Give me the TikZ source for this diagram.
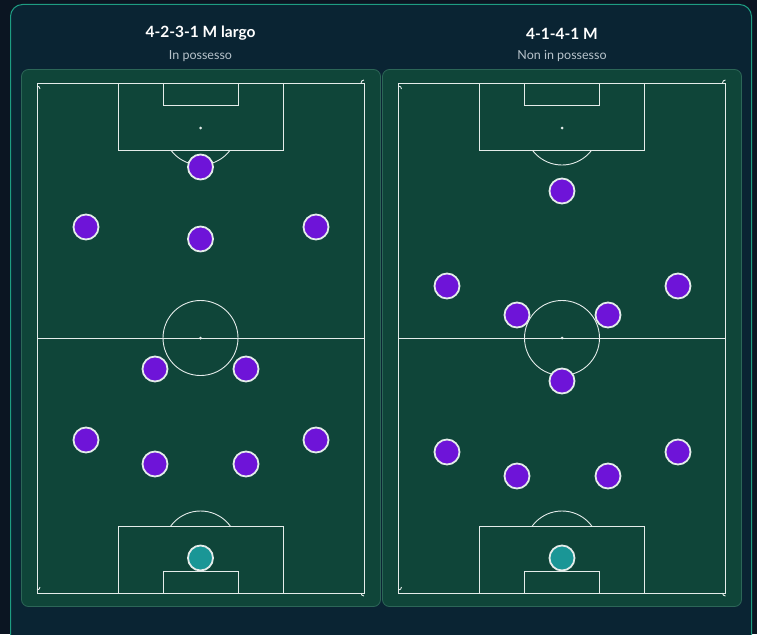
\documentclass[tikz,border=0pt]{standalone}
\usepackage{fontspec}
\setmainfont{Lato}
\definecolor{bgout}{HTML}{0B1522}
\definecolor{card}{HTML}{0A2433}
\definecolor{cardline}{HTML}{1E9C82}
\definecolor{panel}{HTML}{0F4539}
\definecolor{panelline}{HTML}{2C6657}
\definecolor{pline}{HTML}{E4ECEA}
\definecolor{purp}{HTML}{6E14D8}
\definecolor{gk}{HTML}{1A9696}
\definecolor{subt}{HTML}{B8C4CC}
\tikzset{
  pl/.style={circle,draw=pline,line width=1.8pt,fill=purp,minimum size=25pt,inner sep=0pt},
  gkp/.style={pl,fill=gk},
  lineS/.style={draw=pline,line width=0.9pt},
  titleS/.style={text=white,font=\bfseries\fontsize{15.5}{18}\selectfont},
  subS/.style={text=subt,font=\fontsize{12.5}{15}\selectfont},
}
\newcommand{\drawpitch}[1]{%
  \begin{scope}[xshift=#1]
    \draw[lineS] (37,83) rectangle (364,593);
    \draw[lineS] (37,338) -- (364,338);
    \draw[lineS] (200.5,338) circle (37.5);
    \fill[pline] (200.5,338) circle (1.5);
    % top
    \draw[lineS] (118,83) rectangle (283,150);
    \draw[lineS] (163,83) rectangle (238,105);
    \fill[pline] (200.5,128) circle (1.5);
    \begin{scope}
      \clip (100,150) rectangle (300,200);
      \draw[lineS] (200.5,128) circle (37);
    \end{scope}
    % bottom
    \draw[lineS] (118,526) rectangle (283,593);
    \draw[lineS] (163,571) rectangle (238,593);
    \begin{scope}
      \clip (100,470) rectangle (300,526);
      \draw[lineS] (200.5,548) circle (37);
    \end{scope}
    % corners
    \draw[lineS] (37,86) arc (270:360:3);
    \draw[lineS] (361,83) arc (180:270:3);
    \draw[lineS] (37,590) arc (90:0:3);
    \draw[lineS] (361,593) arc (180:90:3);
  \end{scope}}
\begin{document}
\begin{tikzpicture}[x=1pt,y=-1pt]
\useasboundingbox (0,0) rectangle (757,634);
\fill[bgout] (0,0) rectangle (757,634);
\begin{scope}
\clip (0,0) rectangle (757,634);
\draw[cardline,fill=card,line width=1pt,rounded corners=12pt] (10.5,4.5) rectangle (751.5,660);
\end{scope}
\draw[panelline,fill=panel,line width=0.8pt,rounded corners=7pt] (21.5,69.5) rectangle (380.5,606.5);
\draw[panelline,fill=panel,line width=0.8pt,rounded corners=7pt] (382.5,69.5) rectangle (741.5,606.5);
\drawpitch{0}
\drawpitch{361.5}
\node[titleS] (t1) at (200.5,33.5) {4-2-3-1 M largo};
\node[subS] (s1) at (200.5,56) {In possesso};
\node[titleS] (t2) at (562,33.5) {4-1-4-1 M};
\node[subS] (s2) at (562,56) {Non in possesso};
% left formation
\node[gkp] (a1) at (200.5,558) {};
\node[pl] (a2) at (86,440) {};
\node[pl] (a3) at (155,464) {};
\node[pl] (a4) at (246,464) {};
\node[pl] (a5) at (316,440) {};
\node[pl] (a6) at (155,369) {};
\node[pl] (a7) at (246,369) {};
\node[pl] (a8) at (86,227) {};
\node[pl] (a9) at (200.5,239) {};
\node[pl] (a10) at (316,227) {};
\node[pl] (a11) at (200.5,167) {};
% right formation
\node[gkp] (b1) at (562,558) {};
\node[pl] (b2) at (447,452) {};
\node[pl] (b3) at (517,476) {};
\node[pl] (b4) at (608,476) {};
\node[pl] (b5) at (678,452) {};
\node[pl] (b6) at (562,381) {};
\node[pl] (b7) at (447,286) {};
\node[pl] (b8) at (517,315) {};
\node[pl] (b9) at (608,315) {};
\node[pl] (b10) at (678,286) {};
\node[pl] (b11) at (562,191) {};
\end{tikzpicture}
\end{document}
